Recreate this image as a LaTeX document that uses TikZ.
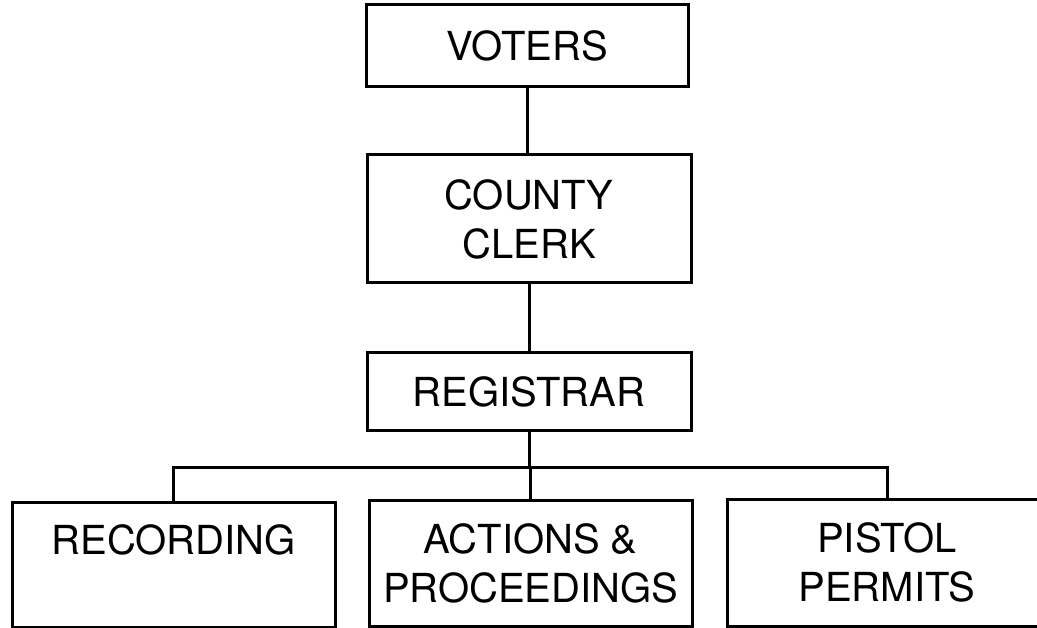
\documentclass[tikz,border=0pt]{standalone}
\usepackage{fontspec}
\setmainfont{TeX Gyre Heros}
\begin{document}
\begin{tikzpicture}[x=1pt,y=-1pt,
  box/.style={draw=black,line width=3pt,rectangle,inner sep=0pt,align=center,
    font=\fontsize{40}{49}\selectfont},
  link/.style={draw=black,line width=3pt}]
\useasboundingbox (0,0) rectangle (1037,628);
\clip (0,0) rectangle (1037,628);
\node[box,minimum width=322pt,minimum height=82pt] (voters) at (527,46) {VOTERS};
\node[box,minimum width=324pt,minimum height=128pt] (clerk) at (529,219) {COUNTY\\CLERK};
\node[box,minimum width=324pt,minimum height=78pt] (reg) at (529,392) {REGISTRAR};
\node[box,minimum width=323pt,minimum height=125pt] (rec) at (173.5,564.5) {RECORDING\\\phantom{X}};
\node[box,minimum width=323pt,minimum height=126pt] (act) at (530.5,563) {ACTIONS \&\\PROCEEDINGS};
\node[box,minimum width=320pt,minimum height=127pt] (pis) at (887,562.5) {PISTOL\\PERMITS};
\coordinate (bus) at (530,467);
\draw[link] (voters.south) -- (voters.south |- clerk.north);
\draw[link] (clerk.south) -- (clerk.south |- reg.north);
\draw[link] (reg.south) -- (reg.south |- bus);
\draw[link] (rec.north) |- (bus) -| (pis.north);
\draw[link] (bus) -- (bus |- act.north);
\end{tikzpicture}
\end{document}
